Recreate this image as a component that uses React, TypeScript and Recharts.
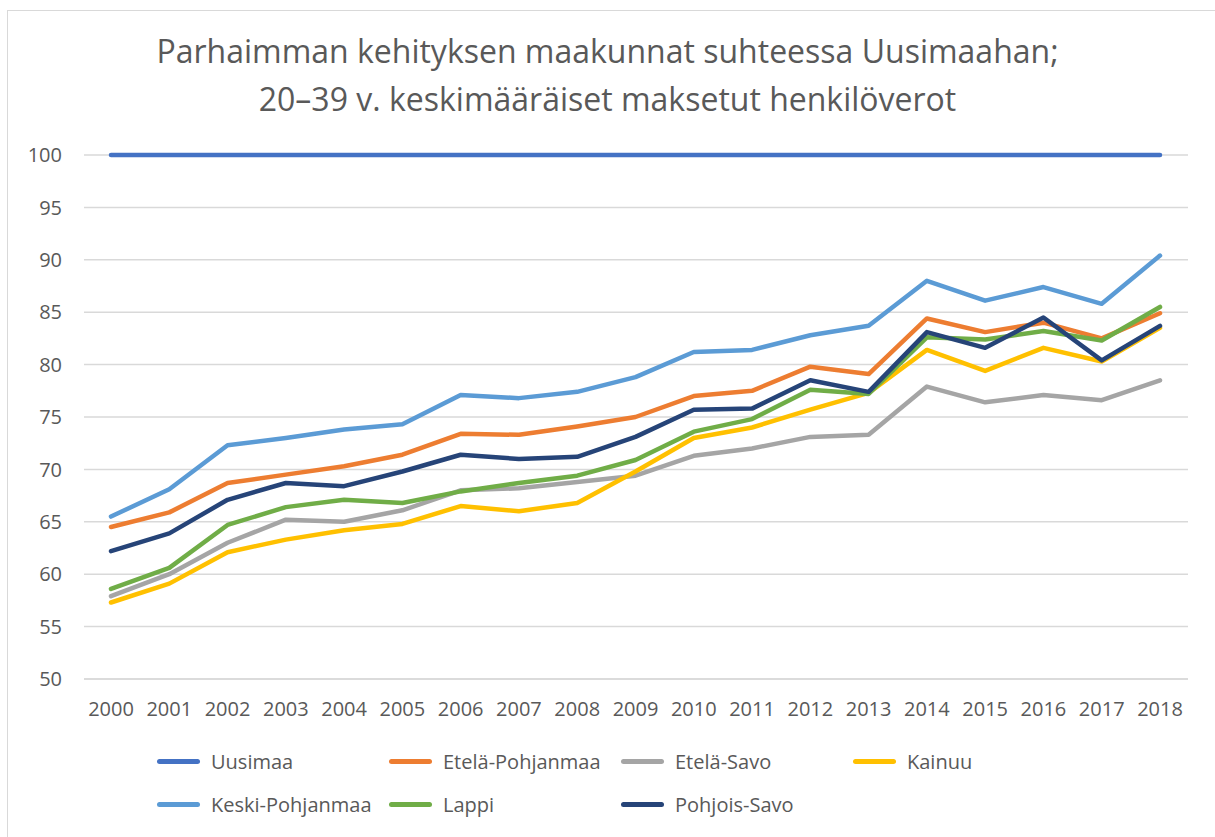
import { LineChart, Line, XAxis, YAxis, CartesianGrid, Legend } from 'recharts';

const years = [
  '2000', '2001', '2002', '2003', '2004', '2005', '2006', '2007', '2008', '2009',
  '2010', '2011', '2012', '2013', '2014', '2015', '2016', '2017', '2018',
];

const uusimaa = [100, 100, 100, 100, 100, 100, 100, 100, 100, 100, 100, 100, 100, 100, 100, 100, 100, 100, 100];
const etelaPohjanmaa = [64.5, 65.9, 68.7, 69.5, 70.3, 71.4, 73.4, 73.3, 74.1, 75.0, 77.0, 77.5, 79.8, 79.1, 84.4, 83.1, 84.0, 82.5, 84.9];
const etelaSavo = [57.9, 60.0, 63.0, 65.2, 65.0, 66.1, 68.0, 68.2, 68.8, 69.4, 71.3, 72.0, 73.1, 73.3, 77.9, 76.4, 77.1, 76.6, 78.5];
const kainuu = [57.3, 59.1, 62.1, 63.3, 64.2, 64.8, 66.5, 66.0, 66.8, 69.8, 73.0, 74.0, 75.7, 77.3, 81.4, 79.4, 81.6, 80.3, 83.5];
const keskiPohjanmaa = [65.5, 68.1, 72.3, 73.0, 73.8, 74.3, 77.1, 76.8, 77.4, 78.8, 81.2, 81.4, 82.8, 83.7, 88.0, 86.1, 87.4, 85.8, 90.4];
const lappi = [58.6, 60.6, 64.7, 66.4, 67.1, 66.8, 67.9, 68.7, 69.4, 70.9, 73.6, 74.8, 77.6, 77.2, 82.6, 82.4, 83.2, 82.3, 85.5];
const pohjoisSavo = [62.2, 63.9, 67.1, 68.7, 68.4, 69.8, 71.4, 71.0, 71.2, 73.1, 75.7, 75.8, 78.5, 77.4, 83.1, 81.6, 84.5, 80.4, 83.7];

const yTicks = [50, 55, 60, 65, 70, 75, 80, 85, 90, 95, 100];

const series = [
  { key: 'Uusimaa', values: uusimaa, color: '#4472C4' },
  { key: 'Etelä-Pohjanmaa', values: etelaPohjanmaa, color: '#ED7D31' },
  { key: 'Etelä-Savo', values: etelaSavo, color: '#A5A5A5' },
  { key: 'Kainuu', values: kainuu, color: '#FFC000' },
  { key: 'Keski-Pohjanmaa', values: keskiPohjanmaa, color: '#5B9BD5' },
  { key: 'Lappi', values: lappi, color: '#70AD47' },
  { key: 'Pohjois-Savo', values: pohjoisSavo, color: '#264478' },
];

const data = years.map((year, i) => {
  const row: Record<string, string | number> = { year };
  series.forEach(s => {
    row[s.key] = s.values[i];
  });
  return row;
});

const font = '"Open Sans", "DejaVu Sans", sans-serif';
const textColor = '#595959';

function LegendBox() {
  return (
    <div style={{ position: 'relative', width: 1215, height: 90 }}>
      {series.map((s, i) => {
        const col = i % 4;
        const row = Math.floor(i / 4);
        return (
          <div
            key={s.key}
            style={{
              position: 'absolute',
              left: 157 + col * 232,
              top: row * 43,
              display: 'flex',
              alignItems: 'center',
              height: 24,
            }}
          >
            <span
              style={{
                display: 'inline-block',
                width: 43,
                height: 5,
                borderRadius: 3,
                background: s.color,
                marginRight: 11,
              }}
            />
            <span style={{ fontFamily: font, fontSize: 20, color: textColor, whiteSpace: 'nowrap' }}>
              {s.key}
            </span>
          </div>
        );
      })}
    </div>
  );
}

export default function App() {
  return (
    <div style={{ position: 'absolute', left: 0, top: 0, width: 1215, height: 837, background: '#fff', overflow: 'hidden' }}>
      <div
        style={{
          position: 'absolute',
          left: 7,
          top: 10,
          width: 1300,
          height: 900,
          border: '1.5px solid #d9d9d9',
          boxSizing: 'border-box',
        }}
      />
      <div
        style={{
          position: 'absolute',
          left: 0,
          top: 27,
          width: 1215,
          textAlign: 'center',
          fontFamily: font,
          fontSize: 32,
          lineHeight: '48px',
          color: textColor,
        }}
      >
        <div>Parhaimman kehityksen maakunnat suhteessa Uusimaahan;</div>
        <div>20–39 v. keskimääräiset maksetut henkilöverot</div>
      </div>
      <div style={{ position: 'absolute', left: 0, top: 0 }}>
        <LineChart width={1215} height={837} data={data} margin={{ top: 155, right: 27, bottom: 0, left: 8 }}>
          <CartesianGrid vertical={false} stroke="#d9d9d9" strokeWidth={1.5} />
          <XAxis
            dataKey="year"
            scale="point"
            padding={{ left: 27, right: 28 }}
            axisLine={{ stroke: '#d9d9d9', strokeWidth: 1.5 }}
            tickLine={false}
            tickSize={0}
            tickMargin={23}
            height={70}
            tick={{ fill: textColor, fontSize: 20, fontFamily: font }}
          />
          <YAxis
            domain={[50, 100]}
            ticks={yTicks}
            interval={0}
            axisLine={false}
            tickLine={false}
            tickSize={0}
            tickMargin={22}
            width={76}
            tick={{ fill: textColor, fontSize: 20, fontFamily: font }}
          />
          <Legend
            verticalAlign="bottom"
            height={88}
            content={() => <LegendBox />}
            wrapperStyle={{ left: 0, width: 1215 }}
          />
          {series.map(s => (
            <Line
              key={s.key}
              type="linear"
              dataKey={s.key}
              stroke={s.color}
              strokeWidth={4.5}
              strokeLinecap="round"
              strokeLinejoin="round"
              dot={false}
              activeDot={false}
              isAnimationActive={false}
            />
          ))}
        </LineChart>
      </div>
    </div>
  );
}
